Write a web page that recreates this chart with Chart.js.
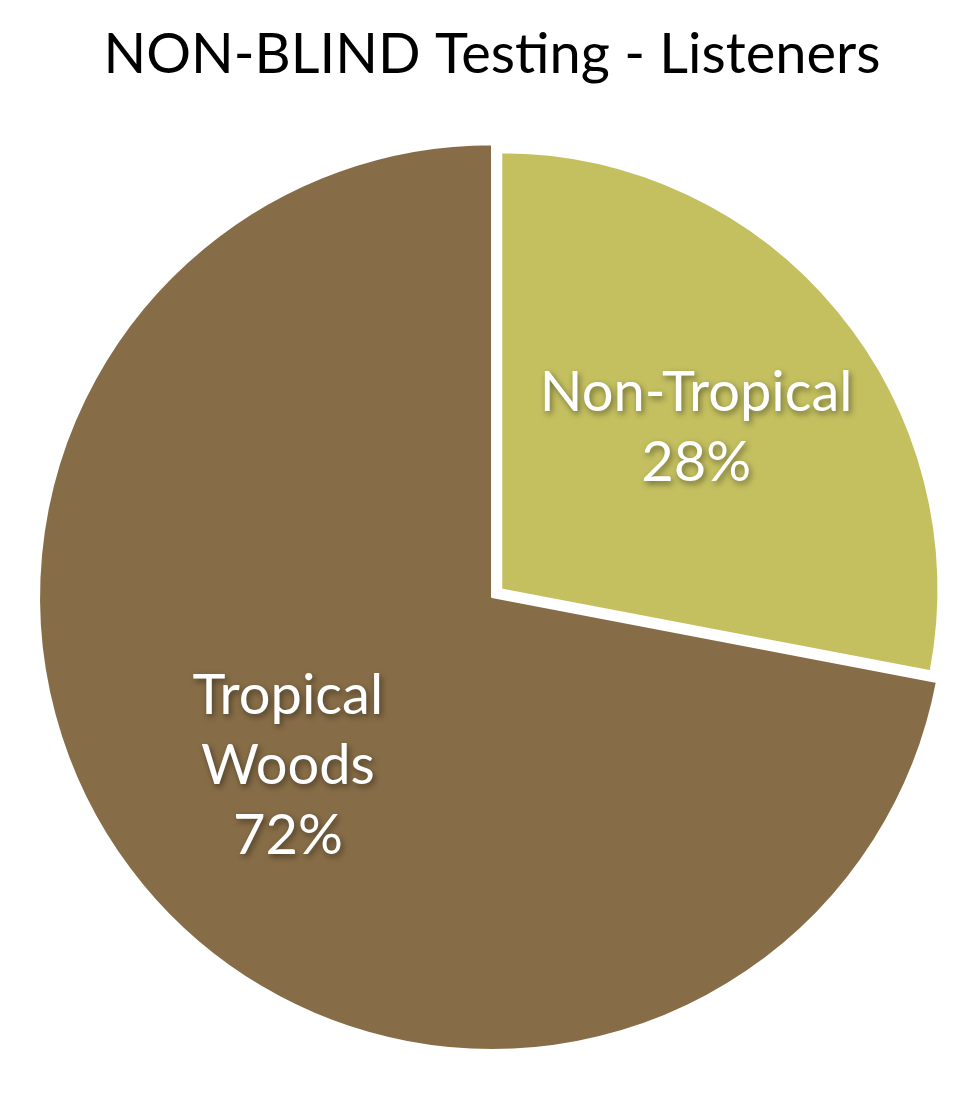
<!DOCTYPE html>
<html>
<head>
<meta charset="utf-8">
<script src="https://cdn.jsdelivr.net/npm/chart.js@4/dist/chart.umd.min.js"></script>
<style>
  html, body { margin: 0; padding: 0; background: #fff; }
  #wrap { width: 980px; height: 1095px; }
</style>
</head>
<body>
<div id="wrap"><canvas id="chart"></canvas></div>
<script>
var titleText = "NON-BLIND Testing - Listeners";
var categories = ["Non-Tropical", "Tropical Woods"];
var labelLines = [["Non-Tropical", "28%"], ["Tropical", "Woods", "72%"]];
var shares = [28, 72];
var sliceColors = ["#C4C060", "#876D47"];

// the pulled-out slice is a bit smaller than the rest of the pie
var shrinkExploded = {
  id: 'shrinkExploded',
  beforeDatasetsDraw: function(chart) {
    var arcs = chart.getDatasetMeta(0).data;
    arcs[0].outerRadius = arcs[1].outerRadius - 16;
  }
};

// draws the white labels with a soft shadow inside each slice
var sliceLabels = {
  id: 'sliceLabels',
  afterDatasetsDraw: function(chart) {
    var ctx = chart.ctx;
    var meta = chart.getDatasetMeta(0);
    var R = meta.data[1].outerRadius;
    meta.data.forEach(function(arc, i) {
      var p = arc.getProps(['x', 'y', 'startAngle', 'endAngle'], true);
      var mid = (p.startAngle + p.endAngle) / 2;
      var r = R * 0.585;
      var cx = p.x + Math.cos(mid) * r;
      var cy = p.y + Math.sin(mid) * r;
      var lines = labelLines[i];
      var lh = 70;
      ctx.save();
      ctx.font = '56px Lato, "DejaVu Sans", sans-serif';
      ctx.textAlign = 'center';
      ctx.textBaseline = 'middle';
      ctx.fillStyle = '#ffffff';
      ctx.shadowColor = 'rgba(0,0,0,0.45)';
      ctx.shadowBlur = 6;
      ctx.shadowOffsetX = 2;
      ctx.shadowOffsetY = 3;
      for (var k = 0; k < lines.length; k++) {
        var y = cy + (k - (lines.length - 1) / 2) * lh;
        ctx.fillText(lines[k], cx, y);
      }
      ctx.restore();
    });
  }
};

new Chart(document.getElementById('chart'), {
  type: 'pie',
  data: {
    labels: categories,
    datasets: [{
      data: shares,
      backgroundColor: sliceColors,
      borderColor: '#ffffff',
      borderWidth: 2,
      offset: [48, 0]   // chart.js moves the slice by offset/4
    }]
  },
  options: {
    responsive: true,
    maintainAspectRatio: false,
    animation: false,
    layout: { padding: { top: 0, left: 4, right: 0, bottom: 20 } },
    plugins: {
      legend: { display: false },
      tooltip: { enabled: false },
      title: {
        display: true,
        text: titleText,
        color: '#000000',
        font: { family: 'Lato, "DejaVu Sans", sans-serif', size: 56, weight: 'normal', lineHeight: 1.2 },
        padding: { top: 21, bottom: 31 }
      }
    }
  },
  plugins: [shrinkExploded, sliceLabels]
});
</script>
</body>
</html>
